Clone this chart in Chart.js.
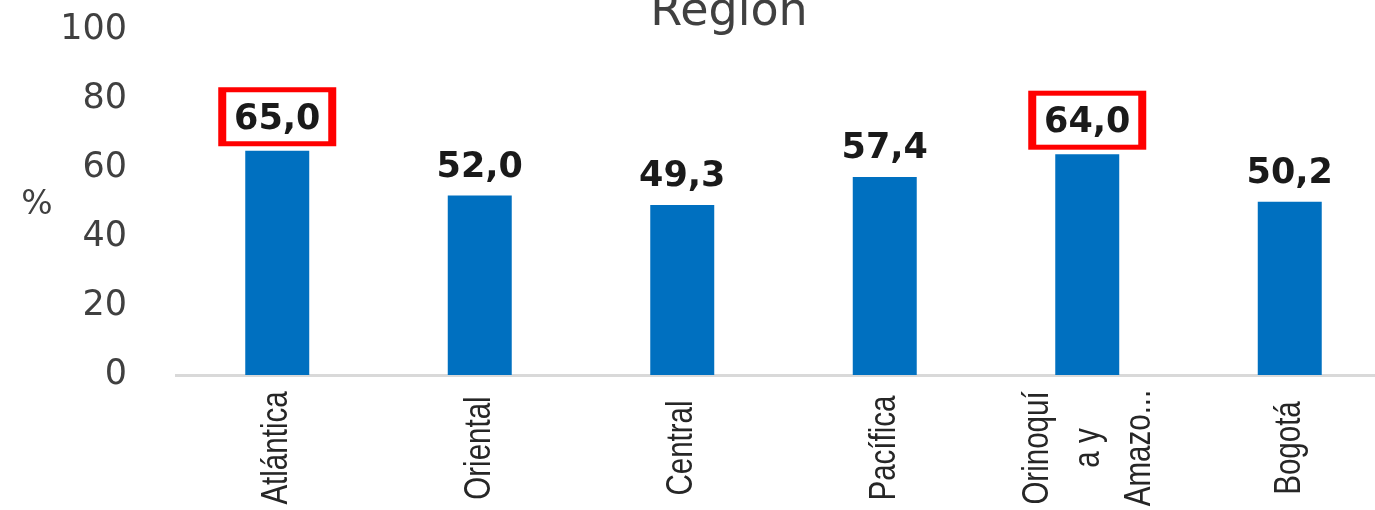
<!DOCTYPE html>
<html>
<head>
<meta charset="utf-8">
<script src="https://cdn.jsdelivr.net/npm/chart.js@4"></script>
<style>
  html, body { margin: 0; padding: 0; background: #fff; overflow: hidden; }
  #wrap { width: 1400px; height: 510px; }
</style>
</head>
<body>
<div id="wrap"><canvas id="chart" width="1400" height="510"></canvas></div>
<script>
// data
const regiones = ['Atlántica', 'Oriental', 'Central', 'Pacífica', ['Orinoquí', 'a y', 'Amazo...'], 'Bogotá'];
const porcentajes = [65.0, 52.0, 49.3, 57.4, 64.0, 50.2];
const destacados = [true, false, false, false, true, false];
const yTicks = [0, 20, 40, 60, 80, 100];
const titulo = 'Región';
const unidad = '%';

const AZUL = '#0070C0';
const GRIS_TEXTO = '#404040';

const fmt = v => v.toFixed(1).replace('.', ',');

// draws title, unit label, category labels, value labels and red boxes
const decoraciones = {
    id: 'decoraciones',
    afterDraw(chart) {
        const ctx = chart.ctx;
        const x = chart.scales.x;
        const meta = chart.getDatasetMeta(0);
        ctx.save();

        // title (cut at the top like the original)
        ctx.fillStyle = GRIS_TEXTO;
        ctx.font = '46px "DejaVu Sans"';
        ctx.textAlign = 'center';
        ctx.textBaseline = 'alphabetic';
        ctx.fillText(titulo, 729, 25);

        // unit
        ctx.font = '33px "DejaVu Sans"';
        ctx.textBaseline = 'middle';
        ctx.fillText(unidad, 37, 205);

        // category labels, rotated
        ctx.fillStyle = '#262626';
        ctx.font = '36px "Liberation Sans", Arial, sans-serif';
        regiones.forEach((lab, i) => {
            const lines = Array.isArray(lab) ? lab : [lab];
            const cx = x.getPixelForValue(i);
            lines.forEach((line, j) => {
                const off = (j - (lines.length - 1) / 2) * 51 + (lines.length > 1 ? 2 : 0);
                ctx.save();
                ctx.translate(cx + off, 448);
                ctx.rotate(-Math.PI / 2);
                ctx.scale(0.82, 1);
                ctx.textAlign = 'center';
                ctx.textBaseline = 'middle';
                ctx.fillText(line, 0, 0);
                ctx.restore();
            });
        });

        // value labels and highlight boxes
        meta.data.forEach((bar, i) => {
            const top = bar.y;
            const cx = bar.x;
            if (destacados[i]) {
                const w = 118, h = 59;
                const bottom = top - 4.5;
                ctx.fillStyle = '#FF0000';
                ctx.fillRect(cx - w / 2, bottom - h, w, h);
                ctx.fillStyle = '#FFFFFF';
                ctx.fillRect(cx - w / 2 + 8, bottom - h + 5, w - 16, h - 10);
            }
            ctx.fillStyle = '#1a1a1a';
            ctx.font = 'bold 35px "DejaVu Sans"';
            ctx.textAlign = 'center';
            ctx.textBaseline = 'alphabetic';
            ctx.fillText(fmt(porcentajes[i]), cx, top - (destacados[i] ? 22 : 19));
        });

        ctx.restore();
    }
};

new Chart(document.getElementById('chart'), {
    type: 'bar',
    data: {
        labels: regiones,
        datasets: [{
            data: porcentajes,
            backgroundColor: AZUL,
            borderWidth: 0,
            barPercentage: 0.316,
            categoryPercentage: 1
        }]
    },
    options: {
        responsive: false,
        animation: false,
        layout: { padding: { top: 30, bottom: 135, right: 9, left: 0 } },
        plugins: {
            legend: { display: false },
            tooltip: { enabled: false },
            title: { display: false }
        },
        scales: {
            x: {
                grid: { display: false, drawTicks: false },
                border: { display: true, color: '#d9d9d9', width: 3 },
                ticks: { display: false }
            },
            y: {
                min: 0,
                max: 100,
                afterBuildTicks: s => { s.ticks = yTicks.map(v => ({ value: v })); },
                afterFit: s => {
                    s.width = 176;
                    s.paddingTop = 0;
                    s.paddingBottom = 0;
                },
                grid: { display: false, drawTicks: false },
                border: { display: false },
                ticks: {
                    padding: 49,
                    color: GRIS_TEXTO,
                    font: { family: '"DejaVu Sans"', size: 35 },
                    autoSkip: false
                }
            }
        }
    },
    plugins: [decoraciones]
});
</script>
</body>
</html>
